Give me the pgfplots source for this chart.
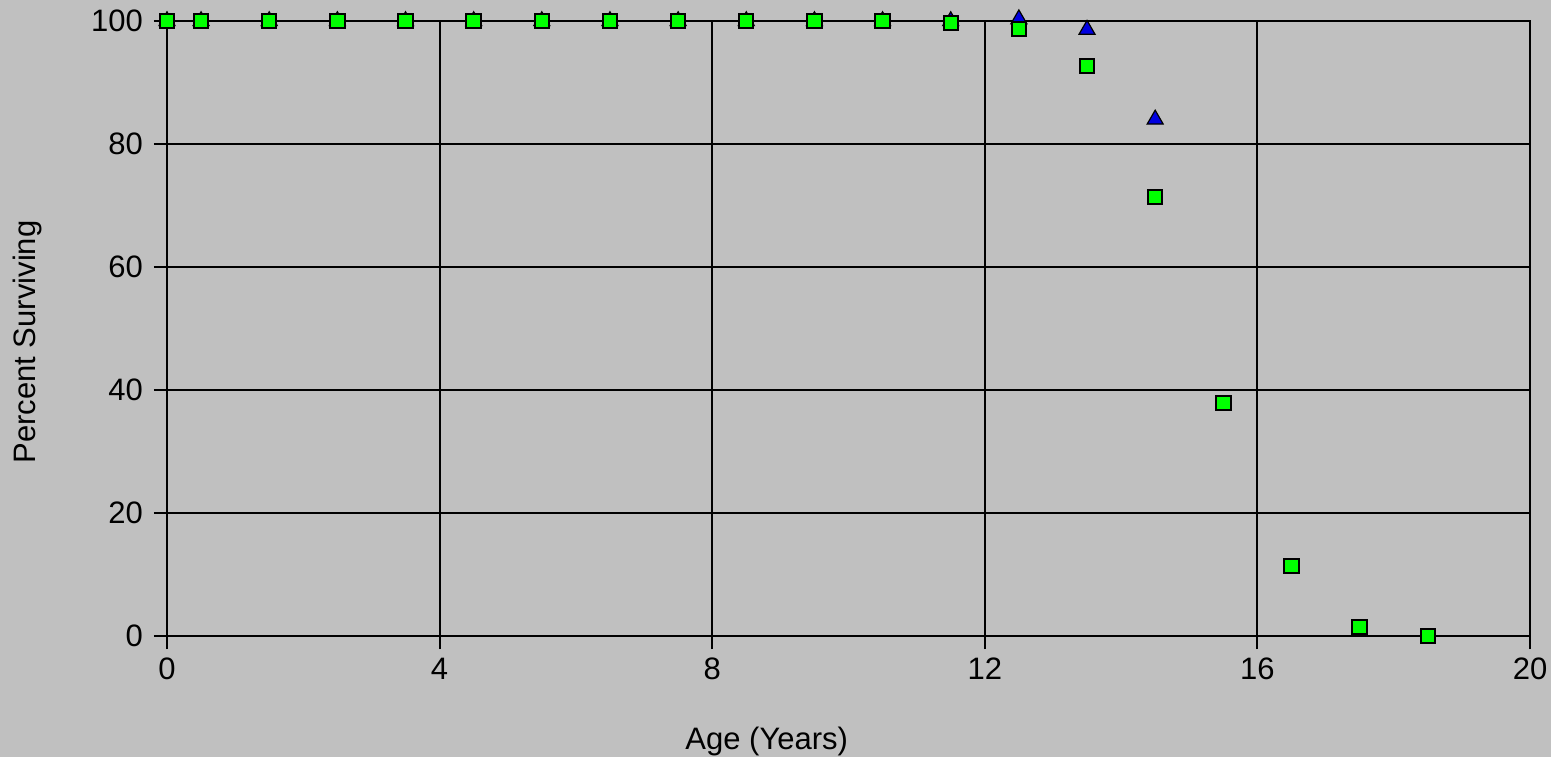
\documentclass[border=0pt]{standalone}
\usepackage{fontspec}
\setmainfont{Liberation Sans}
\usepackage{pgfplots}
\pgfplotsset{compat=1.18}
\definecolor{bg}{HTML}{C0C0C0}
\definecolor{sqgreen}{HTML}{00FF00}
\definecolor{triblue}{HTML}{0000E0}
\begin{document}
\begin{tikzpicture}
\useasboundingbox (-83.5pt,-60pt) rectangle (692pt,318pt);
\fill[bg] (-86pt,-63pt) rectangle (695pt,321pt);
\begin{axis}[
  scale only axis,
  width=681.5pt, height=307.5pt,
  at={(0pt,0pt)}, anchor=south west,
  xmin=0, xmax=20, ymin=0, ymax=100,
  xtick={0,4,8,12,16,20},
  ytick={0,20,40,60,80,100},
  grid=major,
  major grid style={black, line width=1pt},
  axis line style={black, line width=1pt},
  tick style={black, line width=1pt},
  tick align=outside,
  tick pos=left,
  major tick length=6.5pt,
  clip=false,
  font=\fontsize{15.5}{18}\selectfont,
  /pgf/number format/assume math mode=true,
  yticklabel style={xshift=-2pt},
  xticklabel style={yshift=-1pt},
  xlabel={Age (Years)},
  ylabel={Percent Surviving},
  xlabel style={at={(axis description cs:0.44,-0.172)}, anchor=center},
  ylabel style={at={(axis description cs:-0.1027,0.478)}, anchor=center},
]
\addplot[only marks, mark=triangle*, mark size=4.6pt, mark options={fill=triblue, draw=black, line width=0.6pt}]
coordinates {
(0,100) (0.5,100) (1.5,100) (2.5,100) (3.5,100) (4.5,100) (5.5,100) (6.5,100) (7.5,100) (8.5,100) (9.5,100) (10.5,100) (11.5,100)
(12.5,100.3) (13.5,98.6) (14.5,84.0)
};
\addplot[only marks, mark=square*, mark size=3.6pt, mark options={fill=sqgreen, draw=black, line width=1pt}]
coordinates {
(0,100) (0.5,100) (1.5,100) (2.5,100) (3.5,100) (4.5,100) (5.5,100) (6.5,100) (7.5,100) (8.5,100) (9.5,100) (10.5,100) (11.5,99.7)
(12.5,98.7) (13.5,92.7) (14.5,71.4) (15.5,37.9) (16.5,11.4) (17.5,1.5) (18.5,0)
};
\end{axis}
\end{tikzpicture}
\end{document}
